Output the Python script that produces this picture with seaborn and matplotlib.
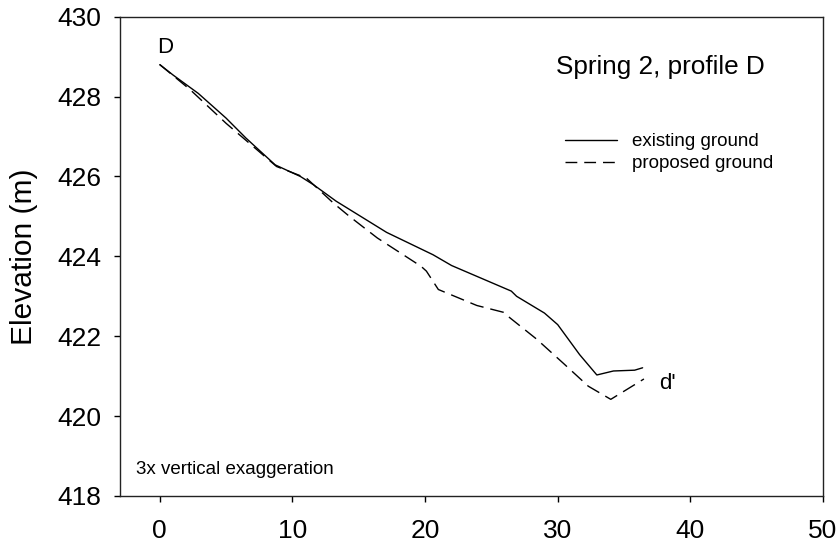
import matplotlib
matplotlib.use("Agg")
import matplotlib.pyplot as plt
import seaborn as sns
import pandas as pd
from matplotlib.lines import Line2D

# ---- data ----
existing_x = [0.0, 1.0, 2.9, 5.0, 6.5, 8.7, 10.6, 11.6, 13.3, 17.1, 20.6, 22.0,
              26.5, 26.9, 29.0, 30.0, 31.65, 32.95, 34.2, 35.8, 36.4]
existing_y = [428.80, 428.54, 428.08, 427.46, 426.96, 426.29, 426.00, 425.79, 425.38,
              424.60, 424.04, 423.77, 423.13, 423.00, 422.58, 422.29, 421.54, 421.03,
              421.13, 421.15, 421.21]
proposed_x = [0.0, 2.3, 5.0, 8.8, 11.05, 13.1, 14.3, 16.4, 19.7, 20.1, 21.0, 23.9,
              25.9, 26.4, 28.4, 30.4, 32.3, 34.0, 36.5]
proposed_y = [428.80, 428.17, 427.33, 426.25, 425.96, 425.33, 425.00, 424.46, 423.75,
              423.63, 423.17, 422.77, 422.60, 422.46, 421.93, 421.33, 420.75, 420.42,
              420.93]
series_names = ["existing ground", "proposed ground"]
x_ticks = [0, 10, 20, 30, 40, 50]
y_ticks = [418, 420, 422, 424, 426, 428, 430]

df = pd.concat([
    pd.DataFrame({"dist": existing_x, "elev": existing_y, "series": series_names[0]}),
    pd.DataFrame({"dist": proposed_x, "elev": proposed_y, "series": series_names[1]}),
], ignore_index=True)

sns.set_style("ticks")
plt.rcParams["font.family"] = ["Liberation Sans", "DejaVu Sans"]
plt.rcParams["text.color"] = "black"
plt.rcParams["axes.labelcolor"] = "black"

fig = plt.figure(figsize=(8.4, 5.45), dpi=100)
ax = fig.add_axes([120 / 840, 1 - 496 / 545, (823 - 120) / 840, (496 - 16.7) / 545])

dash = (10, 5)
sns.lineplot(data=df, x="dist", y="elev", hue="series", style="series",
             palette={series_names[0]: "black", series_names[1]: "black"},
             dashes={series_names[0]: "", series_names[1]: dash},
             sort=False, estimator=None, linewidth=1.0, legend=False, ax=ax)

ax.set_xlim(-3.0, 50)
ax.set_ylim(418, 430)
ax.set_xticks(x_ticks)
ax.set_yticks(y_ticks)
ax.set_xlabel("")
ax.set_ylabel("Elevation (m)", fontsize=21.5, labelpad=14, color="black")
ax.tick_params(axis="both", direction="out", length=4.5, width=1.0, labelsize=19,
               colors="black", top=False, right=False)
ax.tick_params(axis="x", pad=12)
ax.tick_params(axis="y", pad=9)
for s in ax.spines.values():
    s.set_visible(True)
    s.set_color("#222222")
    s.set_linewidth(1.0)

ax.text(0.38, 429.085, "D", fontsize=16, ha="center", va="baseline", color="black")
ax.text(37.68, 420.67, "d'", fontsize=16, ha="left", va="baseline", color="black")
ax.text(29.9, 428.57, "Spring 2, profile D", fontsize=18.8, ha="left", va="baseline",
        color="black")
ax.text(-1.81, 418.54, "3x vertical exaggeration", fontsize=13.5, ha="left",
        va="baseline", color="black")

handles = [Line2D([], [], color="black", lw=1.0),
           Line2D([], [], color="black", lw=1.0, dashes=(8.5, 5))]
leg = ax.legend(handles, series_names, loc="upper left",
                bbox_to_anchor=(565 / 840, 1 - 133 / 545), bbox_transform=fig.transFigure,
                frameon=False, fontsize=13.5, handlelength=2.77, handletextpad=0.8,
                labelspacing=0.28, borderpad=0, borderaxespad=0)
for t in leg.get_texts():
    t.set_color("black")

fig.savefig("out.png", dpi=100)
